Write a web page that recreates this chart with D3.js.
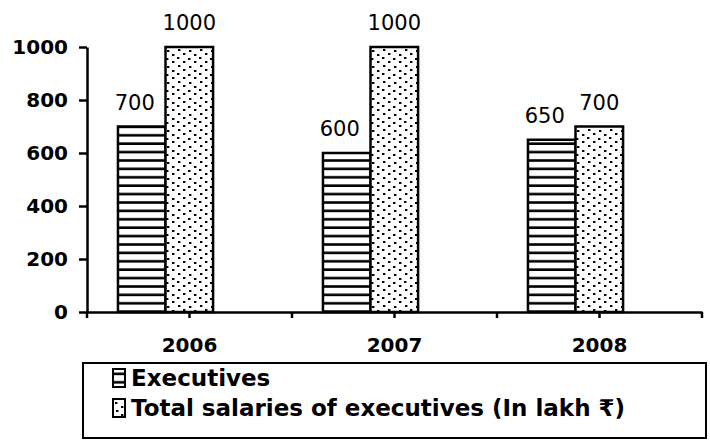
<!DOCTYPE html>
<html>
<head>
<meta charset="utf-8">
<script src="https://cdn.jsdelivr.net/npm/d3@7"></script>
<style>
  body { margin: 0; background: #fff; }
  svg { display: block; }
</style>
</head>
<body>
<div id="canvas"></div>
<script>
// datos del grafico
const years = ["2006", "2007", "2008"];
const executives = [700, 600, 650];
const salaries = [1000, 1000, 700];
const seriesNames = ["Executives", "Total salaries of executives (In lakh \u20B9)"];
const yTicks = [0, 200, 400, 600, 800, 1000];

const width = 710;
const height = 441;
const margin = { top: 47, left: 87, bottom: 129, right: 8 };
const iwidth = width - margin.left - margin.right;
const iheight = height - margin.top - margin.bottom;

const svg = d3.select("#canvas").append("svg")
    .attr("width", width)
    .attr("height", height);

// patrones de relleno
const defs = svg.append("defs");
const stripes = defs.append("pattern")
    .attr("id", "stripes")
    .attr("patternUnits", "userSpaceOnUse")
    .attr("width", 8)
    .attr("height", 8.4);
stripes.append("rect").attr("width", 8).attr("height", 8.4).attr("fill", "#fff");
stripes.append("rect").attr("y", 3).attr("width", 8).attr("height", 2.6).attr("fill", "#000");

const dots = defs.append("pattern")
    .attr("id", "dots")
    .attr("patternUnits", "userSpaceOnUse")
    .attr("width", 22)
    .attr("height", 16);
dots.append("rect").attr("width", 22).attr("height", 16).attr("fill", "#fff");
[[3, 2], [14, 3], [8, 6], [19, 7], [2, 10], [13, 11], [8, 14], [19, 14]].forEach(p => {
  dots.append("rect")
      .attr("x", p[0]).attr("y", p[1])
      .attr("width", 2.4).attr("height", 2)
      .attr("fill", "#000");
});

const g = svg.append("g")
    .attr("transform", `translate(${margin.left}, ${margin.top})`);

const y = d3.scaleLinear()
    .domain([0, 1000])
    .range([iheight, 0]);

const x = d3.scaleBand()
    .domain(years)
    .range([0, iwidth])
    .padding(0);

const xs = d3.scaleBand()
    .domain(seriesNames)
    .range([0.151 * x.bandwidth(), 0.615 * x.bandwidth()]);

const fills = ["url(#stripes)", "url(#dots)"];

const rows = years.map((yr, i) => ({
  year: yr,
  values: [
    { key: seriesNames[0], v: executives[i], s: 0 },
    { key: seriesNames[1], v: salaries[i], s: 1 }
  ]
}));

// barras
const groups = g.selectAll("g.year").data(rows).enter()
    .append("g")
    .attr("class", "year")
    .attr("transform", d => `translate(${x(d.year)}, 0)`);

groups.selectAll("rect").data(d => d.values).enter()
    .append("rect")
    .attr("x", d => xs(d.key))
    .attr("y", d => y(d.v))
    .attr("width", xs.bandwidth())
    .attr("height", d => iheight - y(d.v))
    .attr("fill", d => fills[d.s])
    .attr("stroke", "#000")
    .attr("stroke-width", 2.5);

// etiquetas de valores
groups.selectAll("text").data(d => d.values).enter()
    .append("text")
    .attr("x", d => xs(d.key) + xs.bandwidth() / 2 + (d.s === 0 ? -7 : 0))
    .attr("y", d => y(d.v) - 17)
    .attr("text-anchor", "middle")
    .style("font-family", "DejaVu Sans")
    .style("font-size", "21px")
    .text(d => d.v);

// eje y
const yAxis = g.append("g")
    .call(d3.axisLeft(y).tickValues(yTicks).tickFormat(d3.format("d"))
      .tickSize(8).tickSizeOuter(0).tickPadding(11));
yAxis.select(".domain").attr("stroke-width", 2.5);
yAxis.selectAll(".tick line").attr("stroke-width", 2.5);
yAxis.selectAll("text")
    .style("font-family", "DejaVu Sans")
    .style("font-weight", "bold")
    .style("font-size", "20px")
    .attr("fill", "#000");

// eje x
const xAxis = g.append("g")
    .attr("transform", `translate(0, ${iheight})`)
    .call(d3.axisBottom(x).tickSize(0).tickSizeOuter(0).tickPadding(26));
xAxis.select(".domain").attr("stroke-width", 2.5);
xAxis.selectAll("text")
    .style("font-family", "DejaVu Sans")
    .style("font-weight", "bold")
    .style("font-size", "20px")
    .attr("fill", "#000");

const tickPos = years.flatMap(yr => [x(yr), x(yr) + x.bandwidth() / 2]).concat([iwidth]);
xAxis.selectAll("line.mtick").data(tickPos).enter()
    .append("line")
    .attr("class", "mtick")
    .attr("x1", d => d).attr("x2", d => d)
    .attr("y1", 0).attr("y2", 6)
    .attr("stroke", "#000")
    .attr("stroke-width", 2.5);

// leyenda
const legend = svg.append("g").attr("transform", "translate(83, 363)");
legend.append("rect")
    .attr("width", 623)
    .attr("height", 75)
    .attr("fill", "none")
    .attr("stroke", "#000")
    .attr("stroke-width", 2);

const items = legend.selectAll("g.item").data(seriesNames).enter()
    .append("g")
    .attr("class", "item")
    .attr("transform", (d, i) => `translate(30, ${15 + i * 30})`);

items.append("rect")
    .attr("y", -9)
    .attr("width", 12)
    .attr("height", 18)
    .attr("fill", (d, i) => fills[i])
    .attr("stroke", "#000")
    .attr("stroke-width", 2);

items.append("text")
    .attr("x", 18)
    .attr("dy", "0.36em")
    .style("font-family", "DejaVu Sans")
    .style("font-weight", "bold")
    .style("font-size", "23px")
    .text(d => d);
</script>
</body>
</html>
